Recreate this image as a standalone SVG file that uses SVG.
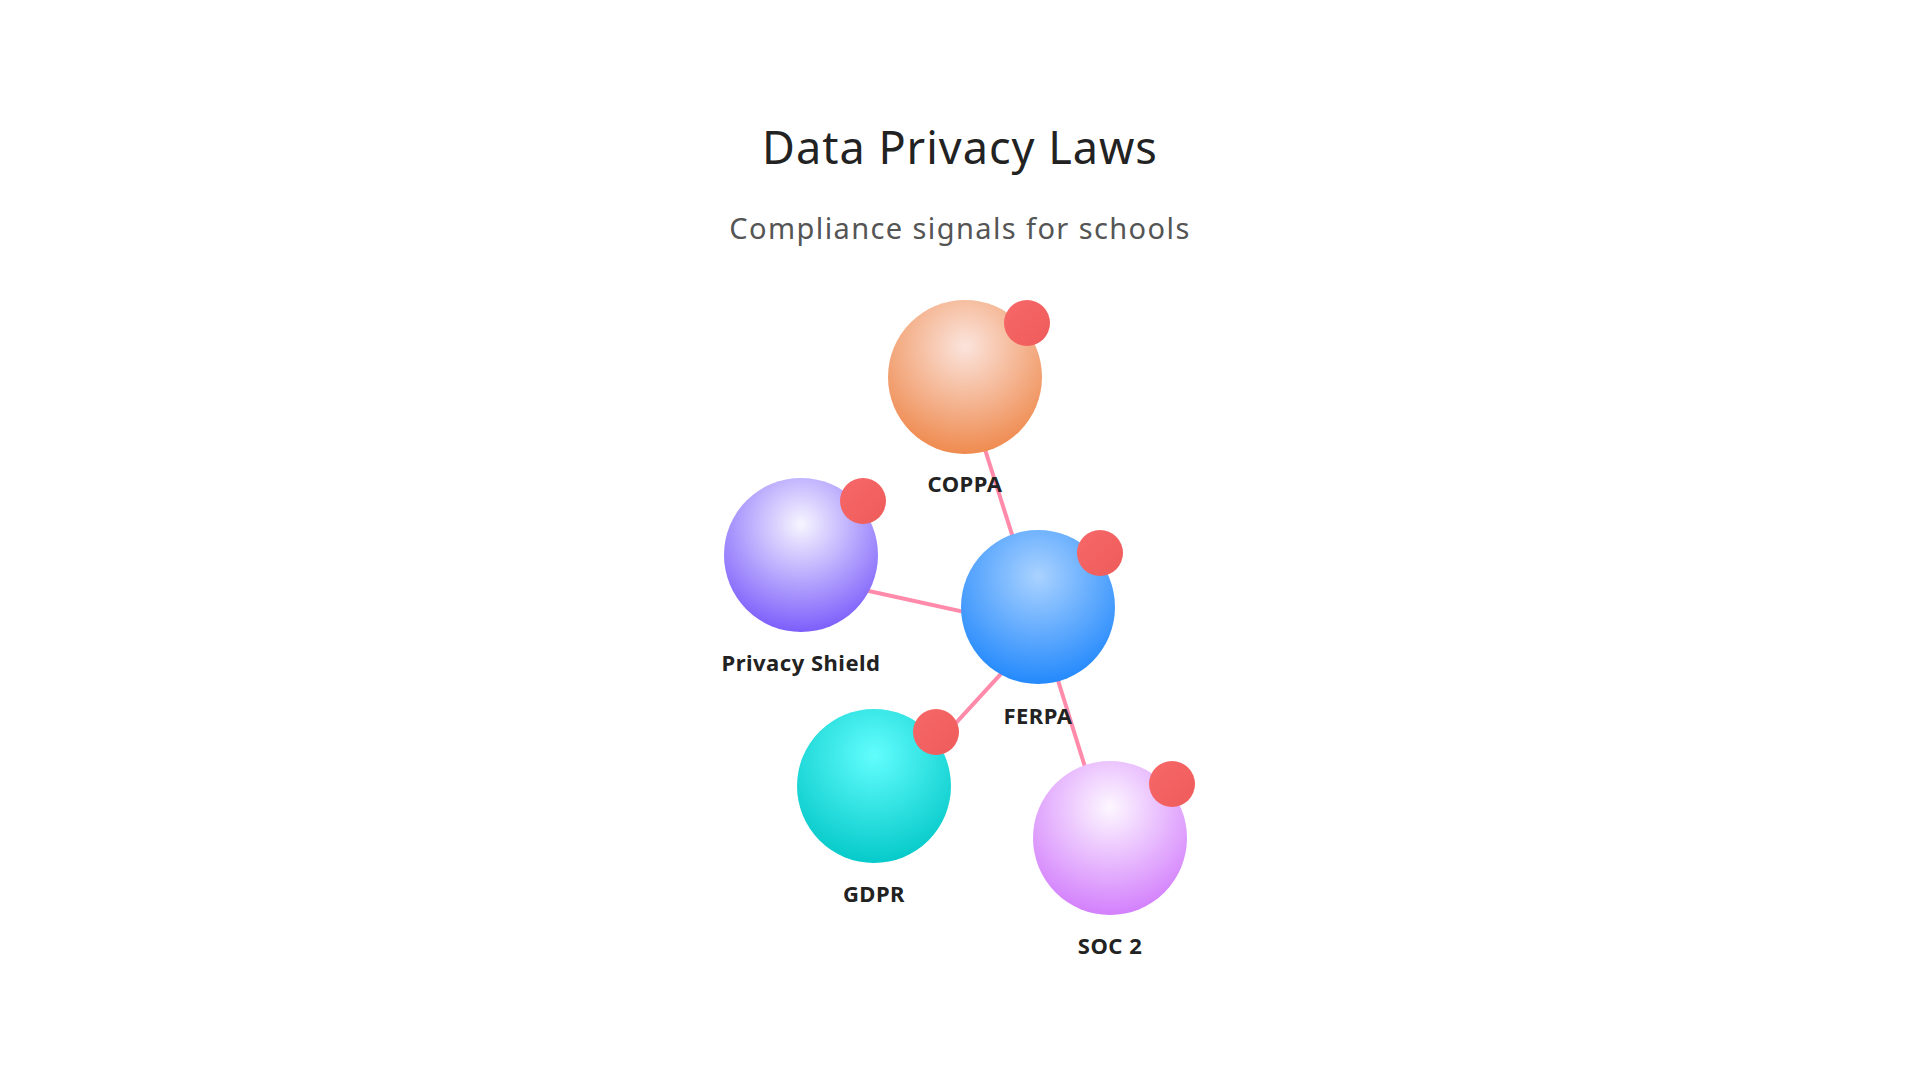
<svg xmlns="http://www.w3.org/2000/svg" width="1920" height="1080" viewBox="0 0 1920 1080">
<style>
.title{font-family:"Noto Sans","Open Sans",sans-serif;font-size:45px;letter-spacing:1px;fill:#222;text-anchor:middle}
.sub{font-family:"Noto Sans","Open Sans",sans-serif;font-size:29px;letter-spacing:1.4px;fill:#555;text-anchor:middle}
.lbl{font-family:"Noto Sans","Open Sans",sans-serif;font-size:22px;letter-spacing:0.5px;font-weight:700;fill:#222;text-anchor:middle}
.edge{stroke:#ff8aaa;stroke-width:4;fill:none}
.badge{fill:url(#gBadge)}
</style>
<defs>
<radialGradient id="gCoppa" cx="50%" cy="30%" r="75%"><stop offset="0" stop-color="#fbe4dc"/><stop offset="1" stop-color="#ee8445"/></radialGradient>
<radialGradient id="gPS" cx="50%" cy="30%" r="75%"><stop offset="0" stop-color="#f7f5ff"/><stop offset="1" stop-color="#7354fb"/></radialGradient>
<radialGradient id="gFerpa" cx="50%" cy="30%" r="75%"><stop offset="0" stop-color="#aad2ff"/><stop offset="1" stop-color="#1a84fc"/></radialGradient>
<radialGradient id="gGdpr" cx="50%" cy="30%" r="75%"><stop offset="0" stop-color="#62fdfd"/><stop offset="1" stop-color="#00c6c6"/></radialGradient>
<radialGradient id="gSoc" cx="50%" cy="30%" r="75%"><stop offset="0" stop-color="#fdf7ff"/><stop offset="1" stop-color="#d077fc"/></radialGradient>
<linearGradient id="gBadge" x1="0" y1="0" x2="1" y2="1"><stop offset="0" stop-color="#f86868"/><stop offset="1" stop-color="#ee5b5b"/></linearGradient>
</defs>
<rect width="1920" height="1080" fill="#fff"/>
<text class="title" x="960" y="164">Data Privacy Laws</text>
<text class="sub" x="960" y="239">Compliance signals for schools</text>
<g id="connectors">
<line class="edge" x1="969" y1="399" x2="1042" y2="629"/>
<line class="edge" x1="805" y1="577" x2="1042" y2="629"/>
<line class="edge" x1="878" y1="808" x2="1042" y2="629"/>
<line class="edge" x1="1114" y1="860" x2="1042" y2="629"/>
</g>
<g id="node-coppa">
<circle cx="965" cy="377" r="77" fill="url(#gCoppa)"/>
<circle class="badge" cx="1027" cy="323" r="23"/>
<text class="lbl" x="965" y="492">COPPA</text>
</g>
<g id="node-privacy-shield">
<circle cx="801" cy="555" r="77" fill="url(#gPS)"/>
<circle class="badge" cx="863" cy="501" r="23"/>
<text class="lbl" x="801" y="671">Privacy Shield</text>
</g>
<g id="node-ferpa">
<circle cx="1038" cy="607" r="77" fill="url(#gFerpa)"/>
<circle class="badge" cx="1100" cy="553" r="23"/>
<text class="lbl" x="1038" y="724">FERPA</text>
</g>
<g id="node-gdpr">
<circle cx="874" cy="786" r="77" fill="url(#gGdpr)"/>
<circle class="badge" cx="936" cy="732" r="23"/>
<text class="lbl" x="874" y="902">GDPR</text>
</g>
<g id="node-soc2">
<circle cx="1110" cy="838" r="77" fill="url(#gSoc)"/>
<circle class="badge" cx="1172" cy="784" r="23"/>
<text class="lbl" x="1110" y="954">SOC 2</text>
</g>
</svg>
